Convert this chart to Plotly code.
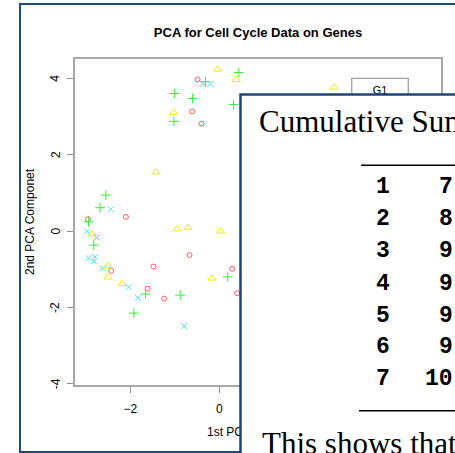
import plotly.graph_objects as go

# ---- data ----
g1_x = [-0.49, -0.61, -0.40, -2.10, -2.95, -0.67, -1.48, 0.29, -2.43, -1.61, -1.24, 0.40]
g1_y = [3.97, 3.13, 2.81, 0.37, 0.31, -0.63, -0.93, -0.99, -1.04, -1.51, -1.77, -1.63]

s_x = [-0.04, 0.38, 2.58, -1.02, -1.42, -2.87, -0.95, -0.71, 0.03, -2.50, -2.50, -2.18, -0.17]
s_y = [4.23, 3.96, 3.76, 3.10, 1.54, -0.08, 0.05, 0.09, -0.01, -0.92, -1.21, -1.38, -1.24]

g2_x = [0.44, -0.31, -1.01, -0.60, 0.32, -1.02, -2.55, -2.68, -2.94, -2.82, -1.66, -0.88, -1.92, 0.19]
g2_y = [4.15, 3.91, 3.60, 3.47, 3.31, 2.87, 0.94, 0.61, 0.24, -0.37, -1.65, -1.68, -2.15, -1.20]

m_x = [-0.37, -0.20, -2.44, -2.97, -2.76, -2.94, -2.79, -2.82, -2.63, -2.04, -1.83, -0.79]
m_y = [3.85, 3.85, 0.57, -0.01, -0.17, -0.71, -0.68, -0.79, -0.98, -1.47, -1.75, -2.49]

x_ticks = [-2, 0]
y_ticks = [-4, -2, 0, 2, 4]

title_text = "PCA for Cell Cycle Data on Genes"
xlab = "1st PCA Componet"
ylab = "2nd PCA Componet"
legend_labels = ["G1"]

table_title = "Cumulative Sum"
table_idx = ["1", "2", "3", "4", "5", "6", "7"]
table_val = ["7", "8", "9", "9", "9", "9", "10"]
footer_text = "This shows that"

# ---- layout geometry (pixels) ----
W, H = 455, 453
PL, PR, PT, PB = 74, 442, 58, 386  # plot box edges

def xp(px):
    return px / W

def yp(py):
    return (H - py) / H

X0_PX, XUNIT = 219.3, 44.5
Y0_PX, YUNIT = 231.0, 38.2

def xd(px):
    return (px - X0_PX) / XUNIT

def yd(py):
    return (Y0_PX - py) / YUNIT

sans = "Liberation Sans, Arial, sans-serif"
serif = "Liberation Serif, Times New Roman, serif"
mono = "Liberation Mono, Courier New, monospace"

fig = go.Figure()

def add(xs, ys, symbol, color, size, name):
    fig.add_trace(go.Scatter(
        x=xs, y=ys, mode="markers", name=name, showlegend=False,
        marker=dict(symbol=symbol, size=size, color=color,
                    line=dict(color=color, width=1)),
    ))

add(g1_x, g1_y, "circle-open", "#ff5a5a", 5, "G1")
add(s_x, s_y, "triangle-up-open", "#eeee00", 7, "S")
add(g2_x, g2_y, "cross-thin-open", "#33f033", 7, "G2")
add(m_x, m_y, "x-thin-open", "#44e8f0", 6, "M")

# legend text and x-axis label as text traces on a full-figure pixel axis
# (so that the overlaid picture covers them)
fig.add_trace(go.Scatter(
    x=[380, 258], y=[91.5, 432.7], mode="text", text=legend_labels + [xlab],
    textfont=dict(family=sans, size=[11, 12], color="black"),
    xaxis="x2", yaxis="y2", showlegend=False, hoverinfo="skip"))

shapes = []
# outer slide frame
shapes.append(dict(type="rect", xref="paper", yref="paper",
                   x0=xp(20), x1=xp(480), y0=yp(452), y1=yp(4),
                   line=dict(color="#1f4b7c", width=2), fillcolor="white", layer="below"))
# plot box
shapes.append(dict(type="rect", xref="paper", yref="paper",
                   x0=xp(PL), x1=xp(PR), y0=yp(PB), y1=yp(PT),
                   line=dict(color="#a8a8a8", width=2), layer="below"))
# legend box
shapes.append(dict(type="rect", xref="paper", yref="paper",
                   x0=xp(351.7), x1=xp(408.3), y0=yp(200), y1=yp(78.3),
                   line=dict(color="#a0a0a0", width=1.3), layer="above"))
# overlay box
shapes.append(dict(type="rect", xref="paper", yref="paper",
                   x0=xp(240.5), x1=xp(480), y0=yp(480), y1=yp(94.5),
                   line=dict(color="#1b4677", width=2.5), fillcolor="white", layer="above"))
# table rules
for py, px0 in [(165.3, 361), (410.7, 359)]:
    shapes.append(dict(type="line", xref="paper", yref="paper",
                       x0=xp(px0), x1=xp(480), y0=yp(py), y1=yp(py),
                       line=dict(color="black", width=1.6), layer="above"))

annotations = []
# rotated y tick labels (R style)
for v in y_ticks:
    annotations.append(dict(text=str(v).replace("-", "-"), xref="paper", yref="y",
                            x=xp(55.5), y=v, textangle=-90, showarrow=False,
                            xanchor="center", yanchor="middle",
                            font=dict(family=sans, size=12, color="black")))
annotations.append(dict(text=ylab, xref="paper", yref="paper", x=xp(30), y=yp((PT + PB) / 2),
                        textangle=-90, showarrow=False, xanchor="center", yanchor="middle",
                        font=dict(family=sans, size=12, color="black")))
annotations.append(dict(text=table_title, xref="paper", yref="paper", x=xp(257), y=yp(121),
                        showarrow=False, xanchor="left", yanchor="middle",
                        font=dict(family=serif, size=31, color="black")))
row_y = [188.3, 220, 251.7, 285, 316.7, 348.3, 380]
for i, (a, b) in enumerate(zip(table_idx, table_val)):
    annotations.append(dict(text="<b>%s</b>" % a, xref="paper", yref="paper",
                            x=xp(383), y=yp(row_y[i] - 1), showarrow=False,
                            xanchor="center", yanchor="middle",
                            font=dict(family=mono, size=23, color="black")))
    annotations.append(dict(text="<b>%s</b>" % b, xref="paper", yref="paper",
                            x=xp(455), y=yp(row_y[i] - 1), showarrow=False,
                            xanchor="right", yanchor="middle",
                            font=dict(family=mono, size=23, color="black")))
annotations.append(dict(text=footer_text, xref="paper", yref="paper", x=xp(259.5), y=yp(443),
                        showarrow=False, xanchor="left", yanchor="middle",
                        font=dict(family=serif, size=31, color="black")))

fig.update_layout(
    width=W, height=H,
    margin=dict(l=0, r=0, t=0, b=0, pad=0),
    paper_bgcolor="white", plot_bgcolor="rgba(0,0,0,0)",
    title=dict(text="<b>%s</b>" % title_text, x=xp((PL + PR) / 2), xref="paper",
               xanchor="center", y=1 - 32.7 / H, yanchor="middle",
               font=dict(family=sans, size=13, color="black")),
    xaxis=dict(domain=[xp(PL), xp(PR)], anchor="y",
               range=[xd(PL), xd(PR)], tickvals=x_ticks, ticks="outside", ticklen=6,
               tickcolor="#909090", tickwidth=1.3, showgrid=False, zeroline=False,
               showline=False, ticklabelstandoff=6,
               tickfont=dict(family=sans, size=12, color="black")),
    yaxis=dict(domain=[yp(PB), yp(PT)], anchor="x",
               range=[yd(PB), yd(PT)], tickvals=y_ticks, ticks="outside", ticklen=6,
               tickcolor="#909090", tickwidth=1.3, showgrid=False, zeroline=False,
               showline=False, showticklabels=False),
    xaxis2=dict(domain=[0, 1], anchor="y2", range=[0, W], visible=False, fixedrange=True),
    yaxis2=dict(domain=[0, 1], anchor="x2", range=[H, 0], visible=False, fixedrange=True),
    shapes=shapes, annotations=annotations,
)

fig.write_html("out.html")
